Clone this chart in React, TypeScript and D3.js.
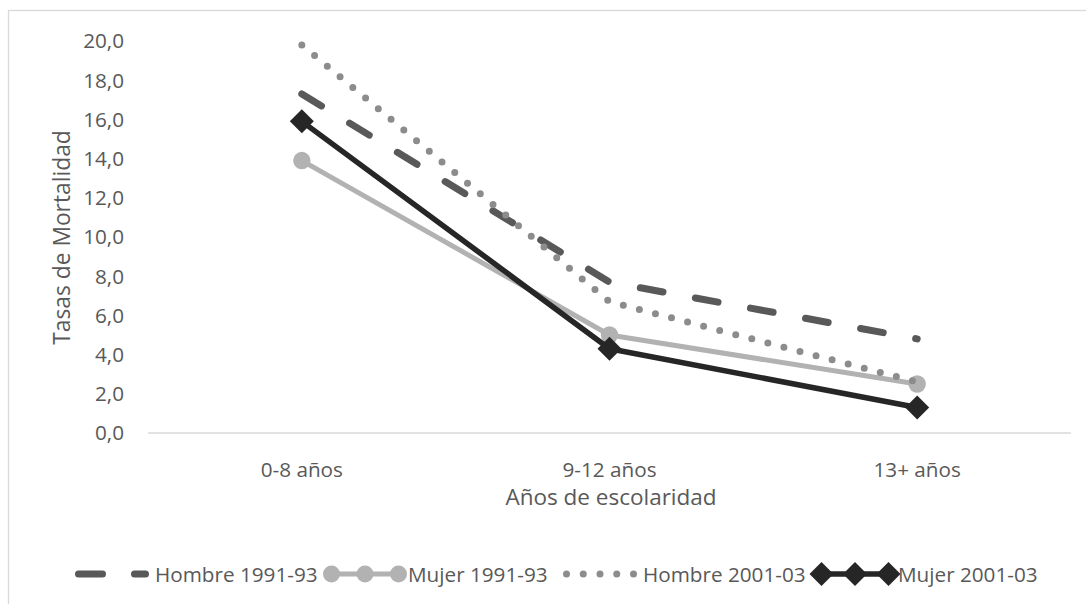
import React from "react";
import * as d3 from "d3";

// Mortality rates by years of schooling, by sex and period
const categories = ["0-8 años", "9-12 años", "13+ años"];
const hombre1991 = [17.3, 7.7, 4.8];
const mujer1991 = [13.9, 5.0, 2.5];
const hombre2001 = [19.8, 6.7, 2.6];
const mujer2001 = [15.9, 4.3, 1.3];
const yTicks = [0, 2, 4, 6, 8, 10, 12, 14, 16, 18, 20];
const seriesNames = ["Hombre 1991-93", "Mujer 1991-93", "Hombre 2001-03", "Mujer 2001-03"];

const W = 1086;
const H = 604;
const FONT = "'Open Sans', 'Noto Sans', sans-serif";
const TEXT = "#595959";

type Style = {
  color: string;
  width: number;
  dash?: string;
  legendDash?: string;
  dotted?: boolean;
  marker?: "circle" | "diamond";
  markerSize?: number;
};

const styles: Style[] = [
  { color: "#595959", width: 7, dash: "23 33", legendDash: "24 32" },
  { color: "#b2b2b2", width: 5, marker: "circle", markerSize: 8.7 },
  { color: "#8c8c8c", width: 7, dash: "0 16.6", dotted: true },
  { color: "#262626", width: 5.5, marker: "diamond", markerSize: 12 },
];

const seriesValues = [hombre1991, mujer1991, hombre2001, mujer2001];

// Legend item centres (symbol midpoints) along the bottom row
const legendCenters = [112, 365, 600, 855];
const legendHalf = 33.5;
const legendTextOffset = 43;

function Marker({ kind, x, y, r, color }: { kind?: string; x: number; y: number; r: number; color: string }) {
  if (kind === "circle") return <circle cx={x} cy={y} r={r} fill={color} />;
  if (kind === "diamond")
    return <path d={`M${x},${y - r}L${x + r},${y}L${x},${y + r}L${x - r},${y}Z`} fill={color} />;
  return null;
}

export default function App() {
  const x = d3.scaleBand<string>().domain(categories).range([148, 1071]);
  const y = d3.scaleLinear().domain([0, 20]).range([433, 41]);
  const cx = (c: string) => (x(c) as number) + x.bandwidth() / 2;
  const line = d3
    .line<number>()
    .x((_, i) => cx(categories[i]))
    .y((v) => y(v));
  const fmt = (v: number) => v.toFixed(1).replace(".", ",");
  const legendY = 574;

  return (
    <svg
      width={W}
      height={H}
      style={{ position: "absolute", left: 0, top: 0, background: "#fff" }}
      fontFamily={FONT}
    >
      <rect x={0} y={0} width={W} height={H} fill="#fff" />
      <rect x={8.5} y={10.5} width={W + 20} height={H + 20} fill="#fff" stroke="#d9d9d9" strokeWidth={1.3} />

      {/* value axis labels */}
      {yTicks.map((t) => (
        <text key={t} x={124} y={y(t) + 7.4} textAnchor="end" fontSize={20.7} fill={TEXT}>
          {fmt(t)}
        </text>
      ))}

      {/* baseline */}
      <line x1={148} x2={1071} y1={y(0)} y2={y(0)} stroke="#d9d9d9" strokeWidth={1.5} />

      {/* category labels */}
      {categories.map((c) => (
        <text key={c} x={cx(c)} y={477} textAnchor="middle" fontSize={20.7} fill={TEXT}>
          {c}
        </text>
      ))}

      {/* axis titles */}
      <text
        transform={`translate(69.5, 237.5) rotate(-90)`}
        textAnchor="middle"
        fontSize={22.8}
        fill={TEXT}
      >
        Tasas de Mortalidad
      </text>
      <text x={611} y={505} textAnchor="middle" fontSize={22.5} fill={TEXT}>
        Años de escolaridad
      </text>

      {/* series */}
      {seriesValues.map((vals, si) => {
        const s = styles[si];
        return (
          <g key={si}>
            <path
              d={line(vals) || ""}
              fill="none"
              stroke={s.color}
              strokeWidth={s.width}
              strokeDasharray={s.dash}
              strokeLinecap={s.dash ? "round" : "butt"}
              strokeLinejoin="round"
            />
            {s.marker &&
              vals.map((v, i) => (
                <Marker key={i} kind={s.marker} x={cx(categories[i])} y={y(v)} r={s.markerSize!} color={s.color} />
              ))}
          </g>
        );
      })}

      {/* legend */}
      {seriesNames.map((name, si) => {
        const s = styles[si];
        const c = legendCenters[si];
        const x0 = c - legendHalf;
        const x1 = c + legendHalf;
        const mr = s.marker === "circle" ? 8.5 : 12;
        const dots = d3.range(5).map((k) => x0 + (k * (x1 - x0)) / 4);
        return (
          <g key={name}>
            {s.dotted ? (
              dots.map((dx, k) => <circle key={k} cx={dx} cy={legendY} r={s.width / 2} fill={s.color} />)
            ) : (
              <line
                x1={x0}
                x2={x1}
                y1={legendY}
                y2={legendY}
                stroke={s.color}
                strokeWidth={s.width}
                strokeDasharray={s.legendDash}
                strokeLinecap={s.dash ? "round" : "butt"}
              />
            )}
            {s.marker &&
              [x0, c, x1].map((mx, k) => <Marker key={k} kind={s.marker} x={mx} y={legendY} r={mr} color={s.color} />)}
            <text x={c + legendTextOffset} y={581.5} fontSize={20.7} fill={TEXT}>
              {name}
            </text>
          </g>
        );
      })}
    </svg>
  );
}
